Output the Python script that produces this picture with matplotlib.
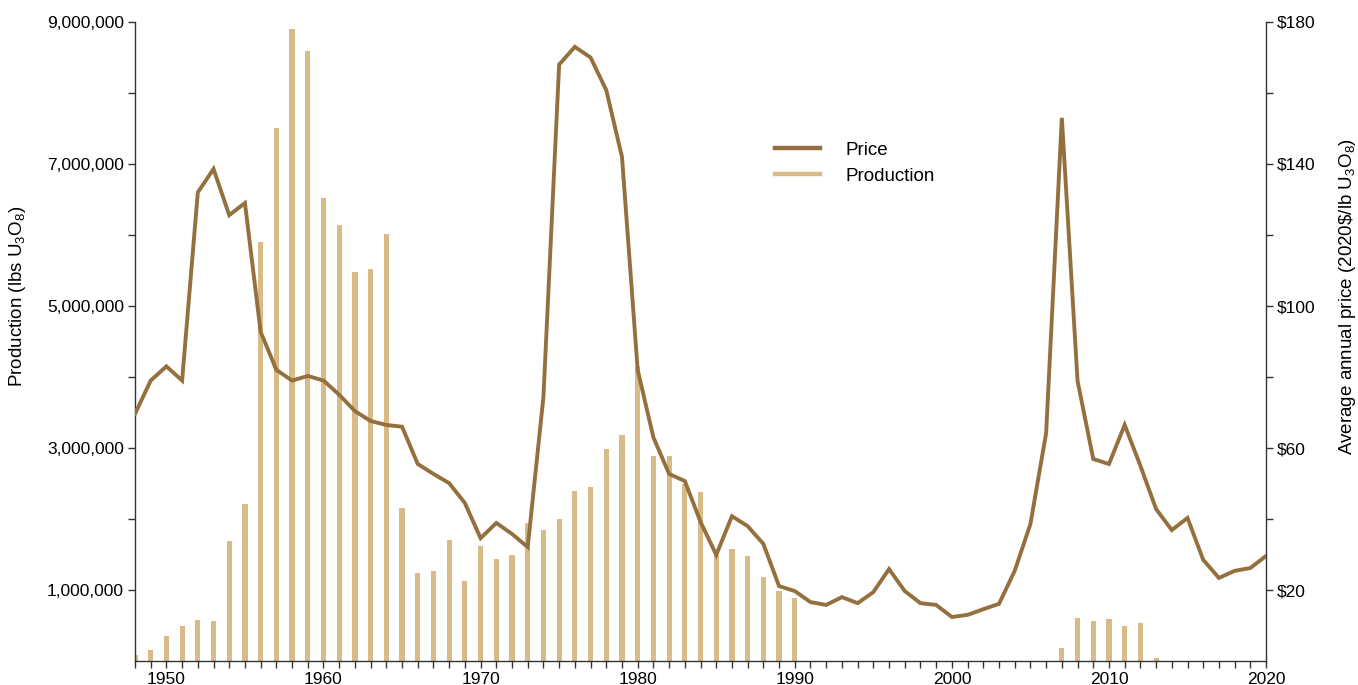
import numpy as np
import matplotlib
matplotlib.use('Agg')
import matplotlib.pyplot as plt
from matplotlib.lines import Line2D
from matplotlib.ticker import FixedLocator, FuncFormatter

plt.rcParams['font.family'] = ['Liberation Sans', 'DejaVu Sans']
plt.rcParams['mathtext.fontset'] = 'custom'
plt.rcParams['mathtext.rm'] = 'Liberation Sans'

# data
years = list(range(1948, 2021))

production = [
    0.09, 0.16, 0.35, 0.49, 0.58, 0.56, 1.69, 2.21, 5.90, 7.50,   # 1948-57
    8.90, 8.59, 6.52, 6.14, 5.48, 5.52, 6.01, 2.15, 1.24, 1.27,   # 1958-67
    1.70, 1.13, 1.62, 1.43, 1.49, 1.94, 1.85, 2.00, 2.39, 2.45,   # 1968-77
    2.99, 3.18, 4.14, 2.89, 2.89, 2.49, 2.38, 1.50, 1.58, 1.48,   # 1978-87
    1.18, 0.99, 0.89, 0, 0, 0, 0, 0, 0, 0,                        # 1988-97
    0, 0, 0, 0, 0, 0, 0, 0, 0, 0.18,                              # 1998-2007
    0.61, 0.56, 0.59, 0.49, 0.54, 0.04, 0, 0, 0, 0,               # 2008-17
    0, 0, 0,                                                      # 2018-20
]
production = [p * 1e6 for p in production]

price = [
    69.6, 79.0, 83.0, 79.0, 132.0, 138.6, 125.6, 129.0, 92.7, 82.0,   # 1948-57
    79.0, 80.3, 79.0, 75.0, 70.4, 67.6, 66.5, 66.0, 55.5, 52.7,       # 1958-67
    50.1, 44.5, 34.6, 38.9, 35.8, 32.1, 74.4, 168.0, 173.0, 170.0,    # 1968-77
    160.8, 142.0, 82.0, 63.0, 52.7, 50.7, 39.2, 29.9, 40.8, 38.0,     # 1978-87
    33.0, 21.1, 19.7, 16.6, 15.8, 18.0, 16.3, 19.4, 25.9, 19.7,       # 1988-97
    16.3, 15.8, 12.4, 13.0, 14.6, 16.1, 25.4, 38.6, 64.2, 153.0,      # 1998-2007
    78.9, 56.9, 55.5, 66.5, 55.0, 42.8, 36.9, 40.3, 28.5, 23.4,       # 2008-17
    25.4, 26.2, 29.6,                                                 # 2018-20
]

line_color = '#94703F'
bar_color = '#D9BB88'
spine_color = '#333333'

fig = plt.figure(figsize=(13.58, 6.85), dpi=100)
ax = fig.add_axes([0.0994, 0.035, 0.8329, 0.9329])
ax2 = ax.twinx()

ax.bar(years, production, width=0.33, color=bar_color, zorder=2)
ax2.plot(years, price, color=line_color, lw=2.8, solid_joinstyle='miter', zorder=3)

ax.set_xlim(1948, 2020)
ax.set_ylim(0, 9e6)
ax2.set_ylim(0, 180)

ax.xaxis.set_major_locator(FixedLocator(range(1950, 2021, 10)))
ax.xaxis.set_minor_locator(FixedLocator(range(1948, 2021)))
ax.yaxis.set_major_locator(FixedLocator([1e6, 3e6, 5e6, 7e6, 9e6]))
ax.yaxis.set_minor_locator(FixedLocator([2e6, 4e6, 6e6, 8e6]))
ax.yaxis.set_major_formatter(FuncFormatter(lambda v, p: f'{v:,.0f}'))
ax2.yaxis.set_major_locator(FixedLocator([20, 60, 100, 140, 180]))
ax2.yaxis.set_minor_locator(FixedLocator([40, 80, 120, 160]))
ax2.yaxis.set_major_formatter(FuncFormatter(lambda v, p: f'${v:.0f}'))

for a in (ax, ax2):
    a.spines['top'].set_visible(False)
    for s in ('left', 'right', 'bottom'):
        a.spines[s].set_color(spine_color)
        a.spines[s].set_linewidth(1.0)
    a.tick_params(which='major', length=5, width=1, color=spine_color,
                  labelsize=12.5, pad=3)
    a.tick_params(which='minor', length=5, width=1, color=spine_color)
ax.spines['right'].set_visible(False)
ax2.spines['left'].set_visible(False)
ax2.spines['bottom'].set_visible(False)

ax.set_ylabel('Production (lbs $\\mathregular{U_3O_8}$)', fontsize=13.5)
ax2.set_ylabel('Average annual price (2020\\$/lb $\\mathregular{U_3O_8}$)',
               fontsize=13.5)
ax.yaxis.set_label_coords(-0.095, 0.571)
ax2.yaxis.set_label_coords(1.063, 0.571)

handles = [Line2D([], [], color=line_color, lw=3.2),
           Line2D([], [], color=bar_color, lw=3.2)]
ax2.legend(handles, ['Price', 'Production'], loc='upper left',
           bbox_to_anchor=(0.566, 0.813), frameon=False, fontsize=13.5,
           handlelength=2.4, handletextpad=1.35, borderpad=0, borderaxespad=0,
           labelspacing=0.47)

fig.savefig('out.png', dpi=100)
